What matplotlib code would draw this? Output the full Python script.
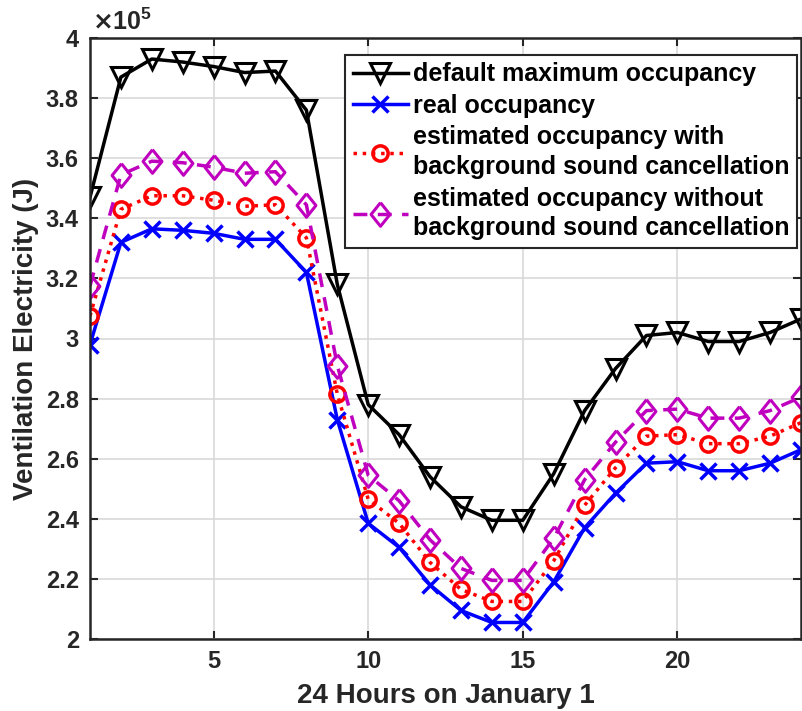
import numpy as np
import matplotlib
matplotlib.use("Agg")
import matplotlib.pyplot as plt

plt.rcParams['font.family'] = ['Liberation Sans', 'DejaVu Sans']
plt.rcParams['font.weight'] = 'bold'

hours = np.arange(1, 25)

default_max = [3.47, 3.87, 3.93, 3.92, 3.905, 3.885, 3.89, 3.76, 3.18, 2.78, 2.68, 2.54,
               2.44, 2.395, 2.395, 2.55, 2.76, 2.90, 3.01, 3.02, 2.99, 2.99, 3.02, 3.065]
real_occ = [2.98, 3.32, 3.365, 3.36, 3.35, 3.33, 3.33, 3.22, 2.73, 2.385, 2.305, 2.18,
            2.095, 2.055, 2.055, 2.19, 2.37, 2.485, 2.585, 2.59, 2.56, 2.56, 2.585, 2.63]
est_with = [3.075, 3.43, 3.475, 3.475, 3.46, 3.44, 3.445, 3.335, 2.815, 2.465, 2.385, 2.255,
            2.165, 2.125, 2.125, 2.26, 2.445, 2.57, 2.675, 2.68, 2.65, 2.65, 2.675, 2.72]
est_without = [3.175, 3.545, 3.59, 3.585, 3.57, 3.55, 3.555, 3.445, 2.91, 2.545, 2.46, 2.33,
               2.235, 2.195, 2.195, 2.335, 2.53, 2.655, 2.76, 2.765, 2.735, 2.735, 2.76, 2.805]

labels = ['default maximum occupancy', 'real occupancy',
          'estimated occupancy with\nbackground sound cancellation',
          'estimated occupancy without\nbackground sound cancellation']

scale = 1e5
# matlab style diamond, a bit wider than mpl's thin one
diamond = [(0, 1), (0.8, 0), (0, -1), (-0.8, 0), (0, 1)]

fig = plt.figure(figsize=(8.02, 7.11), dpi=100)
ax = fig.add_axes([90 / 802, 1 - 639 / 711, 711 / 802, 601 / 711])

ax.plot(hours, np.array(default_max) * scale, color='black', lw=2.5, marker='v',
        ms=14, mfc='none', mew=2.2, label=labels[0])
ax.plot(hours, np.array(real_occ) * scale, color='#0000ff', lw=2.5, marker='x',
        ms=12, mew=2.5, label=labels[1])
ax.plot(hours, np.array(est_with) * scale, color='#ff0000', lw=2.5, ls=':', marker='o',
        ms=11, mfc='none', mew=2.5, label=labels[2])
ax.plot(hours, np.array(est_without) * scale, color='#bf00bf', lw=2.5, ls=(0, (4, 3)),
        marker=diamond, ms=17, mfc='none', mew=2.2, label=labels[3])

ax.set_xlim(1, 24)
ax.set_ylim(2e5, 4e5)
ax.set_xticks([5, 10, 15, 20])
yt = np.arange(2.0, 4.01, 0.2)
ax.set_yticks(yt * scale)
ax.set_yticklabels(['%g' % v for v in yt])

ax.grid(True, color='#d9d9d9', lw=1.2)
ax.set_axisbelow(True)
ax.tick_params(direction='in', top=True, right=True, length=6, width=1.5,
               labelsize=17, colors='#262626', pad=8)
for sp in ax.spines.values():
    sp.set_linewidth(1.8)
    sp.set_color('#262626')
for lab in ax.get_xticklabels() + ax.get_yticklabels():
    lab.set_fontweight('bold')

ax.set_xlabel('24 Hours on January 1', fontsize=20, fontweight='bold', color='#262626',
              labelpad=7)
ax.set_ylabel('Ventilation Electricity (J)', fontsize=20, fontweight='bold', color='#262626',
              labelpad=5)
ax.text(0.003, 1.005, r'$\times\mathregular{10^5}$', transform=ax.transAxes, fontsize=18,
        color='#262626', ha='left', va='bottom')

leg = ax.legend(loc='upper right', bbox_to_anchor=(0.994, 0.972), fontsize=18,
                frameon=True, fancybox=False, edgecolor='#262626', framealpha=1,
                handlelength=2.2, handletextpad=0.2, borderpad=0.3, labelspacing=0.3,
                borderaxespad=0)
leg.get_frame().set_linewidth(1.5)
for t in leg.get_texts():
    t.set_fontweight('bold')
    t.set_linespacing(1.3)

fig.savefig('out.png', dpi=100)
